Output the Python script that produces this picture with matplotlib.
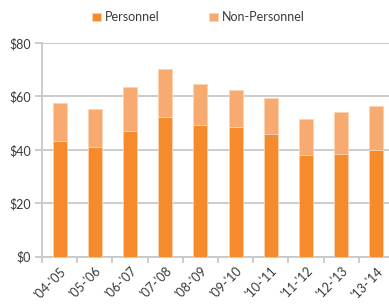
import matplotlib.pyplot as plt
import numpy as np

# fiscal years and spending (in $ millions)
years = ["'04-'05", "'05-'06", "'06-'07", "'07-'08", "'08-'09",
         "'09-'10", "'10-'11", "'11-'12", "'12-'13", "'13-'14"]
personnel = [43.2, 41.1, 46.9, 52.1, 49.4, 48.7, 45.8, 38.1, 38.5, 39.9]
total = [57.6, 55.2, 63.5, 70.1, 64.7, 62.2, 59.3, 51.6, 54.1, 56.4]
non_personnel = [t - p for t, p in zip(total, personnel)]

plt.rcParams['font.family'] = ['Lato', 'DejaVu Sans']

fig = plt.figure(figsize=(3.89, 3.06), dpi=100)
ax = fig.add_axes([0.108, 0.161, 0.905, 0.699])

x = np.arange(len(years))
width = 0.4
c_pers = '#F68B2B'
c_non = '#F8AB70'

ax.bar(x, personnel, width, color=c_pers, edgecolor='#FBD3B0', linewidth=0.6,
       label='Personnel', zorder=3)
ax.bar(x, non_personnel, width, bottom=personnel, color=c_non, edgecolor='#FBD3B0',
       linewidth=0.6, label='Non-Personnel', zorder=3)

ax.set_xlim(-0.5, len(years) - 0.5)
ax.set_ylim(0, 80)
ax.set_yticks([0, 20, 40, 60, 80])
ax.set_yticklabels(['$0', '$20', '$40', '$60', '$80'])
ax.yaxis.grid(True, color='#C8C8C8', linewidth=1.3, zorder=0)

# category ticks between bars, labels at bar centers
ax.set_xticks(x)
ax.set_xticklabels(years, rotation=45, ha='right', rotation_mode='anchor')
ax.set_xticks(np.arange(len(years)) - 0.5, minor=True)
ax.tick_params(axis='x', which='major', length=0, pad=6, labelsize=9, labelcolor='#3A3A3A')
ax.tick_params(axis='x', which='minor', length=4, color='#C8C8C8', width=1.3)
ax.tick_params(axis='y', length=5, color='#C8C8C8', width=1.3, labelsize=9,
               labelcolor='#3A3A3A', pad=3)

for side in ['top', 'right']:
    ax.spines[side].set_visible(False)
ax.spines['left'].set_color('#C8C8C8')
ax.spines['left'].set_linewidth(1.3)
ax.spines['bottom'].set_color('#C8C8C8')
ax.spines['bottom'].set_linewidth(1.3)

fig.legend(loc='upper center', bbox_to_anchor=(0.51, 1.0), ncol=2, frameon=False,
           fontsize=9, labelcolor='#3A3A3A', handlelength=0.7, handleheight=0.7,
           handletextpad=0.3, columnspacing=4.0)

fig.savefig('out.png', dpi=100)
